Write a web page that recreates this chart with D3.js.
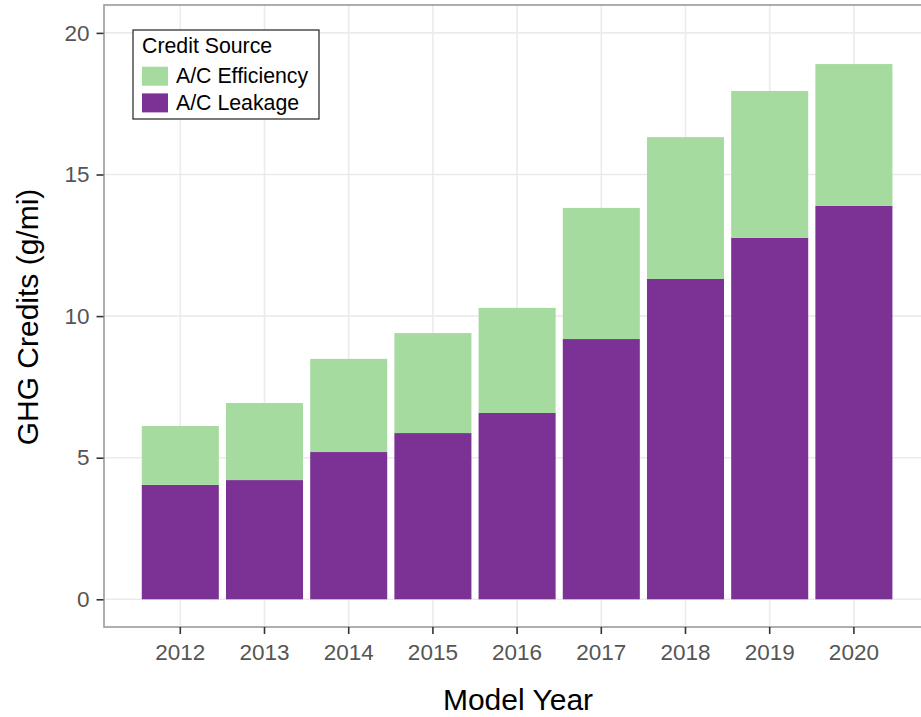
<!DOCTYPE html>
<html>
<head>
<meta charset="utf-8">
<script src="https://cdn.jsdelivr.net/npm/d3@7"></script>
<style>
  body { margin: 0; background: #fff; }
  text { font-family: "Liberation Sans", Arial, sans-serif; }
</style>
</head>
<body>
<svg id="chart" width="921" height="717"></svg>
<script>
const years = ["2012","2013","2014","2015","2016","2017","2018","2019","2020"];
const leakage = [4.04, 4.21, 5.20, 5.87, 6.58, 9.19, 11.31, 12.76, 13.89];
const efficiency = [2.08, 2.72, 3.29, 3.53, 3.71, 4.63, 5.01, 5.19, 5.01];
const seriesNames = ["A/C Leakage", "A/C Efficiency"];
const seriesColors = ["#7b3294", "#a6dba0"];
const yTicks = [0, 5, 10, 15, 20];

const svg = d3.select("#chart");
const panel = {left: 104, top: 5, right: 931, bottom: 627};

const step = 84.2;
const x = d3.scaleBand()
  .domain(years)
  .range([180.3 - step/2, 180.3 - step/2 + step*years.length])
  .paddingInner(0.085).paddingOuter(0.0425);
const y = d3.scaleLinear().domain([0, 20]).range([599.3, 32.9]);

// grid
const g = svg.append("g");
g.selectAll("line.hg").data(yTicks).enter().append("line")
  .attr("x1", panel.left).attr("x2", panel.right)
  .attr("y1", d => y(d)).attr("y2", d => y(d))
  .attr("stroke", "#ebebeb").attr("stroke-width", 1.6);
g.selectAll("line.vg").data(years).enter().append("line")
  .attr("x1", d => x(d) + x.bandwidth()/2).attr("x2", d => x(d) + x.bandwidth()/2)
  .attr("y1", panel.top).attr("y2", panel.bottom)
  .attr("stroke", "#ebebeb").attr("stroke-width", 1.6);

// stacked bars
const rows = years.map((yr, i) => ({year: yr, "A/C Leakage": leakage[i], "A/C Efficiency": efficiency[i]}));
const stack = d3.stack().keys(seriesNames)(rows);
svg.append("g").selectAll("g").data(stack).enter().append("g")
  .attr("fill", (d, i) => seriesColors[i])
  .selectAll("rect").data(d => d).enter().append("rect")
  .attr("x", d => x(d.data.year))
  .attr("width", x.bandwidth())
  .attr("y", d => y(d[1]))
  .attr("height", d => y(d[0]) - y(d[1]));

// panel border
svg.append("rect")
  .attr("x", panel.left).attr("y", panel.top)
  .attr("width", panel.right - panel.left).attr("height", panel.bottom - panel.top)
  .attr("fill", "none").attr("stroke", "#9a9a9a").attr("stroke-width", 1.6);

// y axis
const yAxis = d3.axisLeft(y).tickValues(yTicks).tickSize(7).tickPadding(7);
const ya = svg.append("g").attr("transform", `translate(${panel.left - 0.5},0)`).call(yAxis);
ya.select(".domain").remove();
ya.selectAll(".tick line").attr("stroke", "#333").attr("stroke-width", 1.6);
ya.selectAll(".tick text").attr("fill", "#555").attr("font-size", 22.5)
  .style("font-family", "Liberation Sans, Arial, sans-serif");

// x axis
const xAxis = d3.axisBottom(x).tickSize(7).tickPadding(5);
const xa = svg.append("g").attr("transform", `translate(0,${panel.bottom})`).call(xAxis);
xa.select(".domain").remove();
xa.selectAll(".tick line").attr("stroke", "#333").attr("stroke-width", 1.6);
xa.selectAll(".tick text").attr("fill", "#555").attr("font-size", 22.5)
  .attr("y", 33).attr("dy", 0)
  .style("font-family", "Liberation Sans, Arial, sans-serif");

// axis titles
svg.append("text").attr("x", 518).attr("y", 710)
  .attr("text-anchor", "middle").attr("font-size", 30).attr("fill", "#000").text("Model Year");
svg.append("text").attr("transform", "translate(37.5,317) rotate(-90)")
  .attr("text-anchor", "middle").attr("font-size", 30).attr("fill", "#000").text("GHG Credits (g/mi)");

// legend
const lg = svg.append("g");
lg.append("rect").attr("x", 133).attr("y", 30).attr("width", 186).attr("height", 89)
  .attr("fill", "#fff").attr("stroke", "#222").attr("stroke-width", 1.2);
lg.append("text").attr("x", 142).attr("y", 53).attr("font-size", 21.3).attr("fill", "#000").text("Credit Source");
const legendItems = [
  {name: "A/C Efficiency", color: seriesColors[1]},
  {name: "A/C Leakage", color: seriesColors[0]}
];
legendItems.forEach((it, i) => {
  lg.append("rect").attr("x", 142).attr("y", 66.7 + i*26.7).attr("width", 26).attr("height", 19).attr("fill", it.color);
  lg.append("text").attr("x", 176).attr("y", 82.5 + i*27.3).attr("font-size", 21.3).attr("fill", "#000").text(it.name);
});
</script>
</body>
</html>
